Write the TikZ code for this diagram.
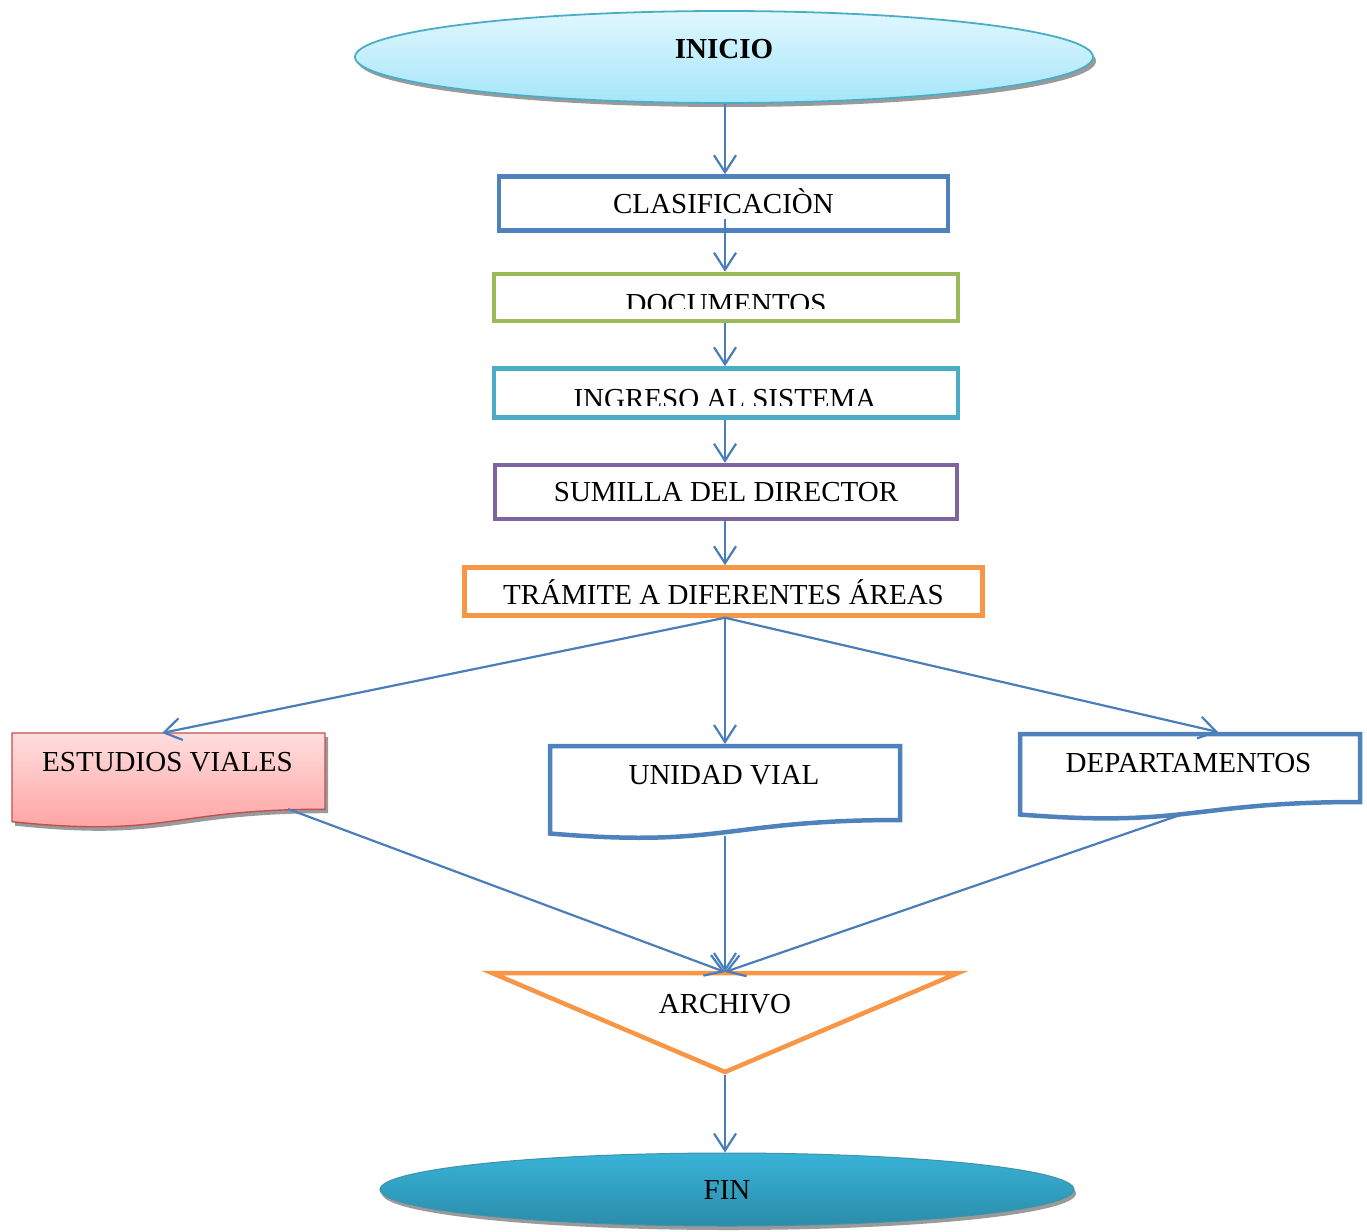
\documentclass[tikz,border=0pt]{standalone}
\usepackage{fontspec}
\setmainfont{Liberation Serif}
\usetikzlibrary{arrows.meta,shapes.geometric,calc}
\definecolor{cblue}{HTML}{4F81BD}
\definecolor{cgreen}{HTML}{9BBB59}
\definecolor{ccyan}{HTML}{4BACC6}
\definecolor{cpurple}{HTML}{8064A2}
\definecolor{corange}{HTML}{F79646}
\definecolor{cred}{HTML}{C0504D}
\definecolor{arrowc}{HTML}{4A7EBB}
\definecolor{initop}{HTML}{E0F7FD}
\definecolor{inibot}{HTML}{A5E6FA}
\definecolor{fintop}{HTML}{38B3D7}
\definecolor{finbot}{HTML}{2B8CAB}
\definecolor{estop}{HTML}{FFDEDE}
\definecolor{esbot}{HTML}{FF9E9E}
\definecolor{shadowc}{HTML}{9A9A9A}
\begin{document}
\begin{tikzpicture}[x=1pt,y=-1pt,
  font=\fontsize{29}{34}\selectfont,
  stepbox/.style={draw, rectangle, line width=4.5pt, fill=white, inner sep=0pt,
    text height=19.2pt, text depth=0pt},
  doctext/.style={inner sep=0pt, text height=19.2pt, text depth=0pt},
  docshape/.style={line width=4.5pt, draw=cblue, fill=white, line join=miter},
  conn/.style={draw=arrowc, line width=2.2pt, -{Straight Barb[length=17pt,width=22pt,line width=2.2pt]}},
  term/.style={ellipse, inner sep=0pt, text height=19.2pt},
]
\useasboundingbox (0,0) rectangle (1367,1231);
\coordinate (ax) at (725,0);

% INICIO
\fill[shadowc] (727,61) ellipse [x radius=369, y radius=46];
\node[term, minimum width=738pt, minimum height=92pt, top color=initop, bottom color=inibot,
  draw=ccyan, line width=1.8pt, text depth=16pt] (ini) at (724,57) {\textbf{INICIO}};

% process boxes
\node[stepbox, draw=cblue, minimum width=449pt, minimum height=54pt] (clas) at (723.5,203.5) {CLASIFICACIÒN};
\node[stepbox, draw=cgreen, minimum width=464pt, minimum height=47pt] (doc) at (726,297.5) {};
\begin{scope}
  \clip (496,276) rectangle (956,308);
  \node[anchor=base, inner sep=0pt] (doctxt) at (726,313) {DOCUMENTOS};
\end{scope}
\node[stepbox, draw=ccyan, minimum width=464pt, minimum height=49pt] (ing) at (726,393) {};
\begin{scope}
  \clip (496,371) rectangle (956,405);
  \node[anchor=base, inner sep=0pt] (ingtxt) at (725,408) {INGRESO AL SISTEMA};
\end{scope}
\node[stepbox, draw=cpurple, minimum width=462pt, minimum height=54pt] (sum) at (726,492) {SUMILLA DEL DIRECTOR};
\node[stepbox, draw=corange, minimum width=518pt, minimum height=48pt, text height=26.2pt] (tram) at (723.5,591.5) {TRÁMITE A DIFERENTES ÁREAS};

% document shapes
\fill[shadowc] (15,737) -- (328,737) -- (328,813.2) .. controls (171.5,813.2) and (171.5,842.2) .. (15,825.7) -- cycle;
\draw[line width=1.4pt, draw=cred, top color=estop, bottom color=esbot]
  (12,733) -- (325,733) -- (325,809.2) .. controls (168.5,809.2) and (168.5,838.2) .. (12,821.7) -- cycle;
\node[doctext] (est) at (167.5,762) {ESTUDIOS VIALES};
\coordinate (esttop) at (162,733);
\coordinate (estbot) at (288,809);

\draw[docshape]
  (550,746) -- (900,746) -- (900,820) .. controls (725,820) and (725,848.2) .. (550,833.5) -- cycle;
\node[doctext] (uni) at (724,775) {UNIDAD VIAL};
\coordinate (unitop) at (725,744);
\coordinate (unibot) at (725,836);

\draw[docshape]
  (1020,734) -- (1360,734) -- (1360,802) .. controls (1190,802) and (1190,827.9) .. (1020,814.5) -- cycle;
\node[doctext] (dep) at (1188.5,763) {DEPARTAMENTOS};
\coordinate (deptop) at (1218,732);
\coordinate (depbot) at (1180,815);

% ARCHIVO
\draw[line width=4.5pt, draw=corange, fill=white, line join=miter]
  (492,973) -- (958,973) -- (725,1072) -- cycle;
\node[doctext] (arch) at (725,1003.5) {ARCHIVO};
\coordinate (archtop) at (725,972);
\coordinate (archapex) at (725,1075);

% FIN
\fill[shadowc] (729,1193.5) ellipse [x radius=347, y radius=36.5];
\node[term, minimum width=694pt, minimum height=73pt, top color=fintop, bottom color=finbot,
  draw=ccyan!85!black, line width=1pt, text depth=0pt] (fin) at (727,1189.5) {FIN};

% connectors
\draw[conn] (ax |- ini.south) -- (ax |- clas.north);
\draw[conn] ([yshift=14pt]ax |- clas.south) -- (ax |- doc.north);
\draw[conn] (ax |- doc.south) -- (ax |- ing.north);
\draw[conn] (ax |- ing.south) -- (ax |- sum.north);
\draw[conn] (ax |- sum.south) -- (ax |- tram.north);
\draw[conn] (ax |- tram.south) -- (esttop);
\draw[conn] (ax |- tram.south) -- (unitop);
\draw[conn] (ax |- tram.south) -- (deptop);
\draw[conn] (estbot) -- (archtop);
\draw[conn] (unibot) -- (archtop);
\draw[conn] (depbot) -- (archtop);
\draw[conn] (archapex) -- (ax |- fin.north);
\end{tikzpicture}
\end{document}
